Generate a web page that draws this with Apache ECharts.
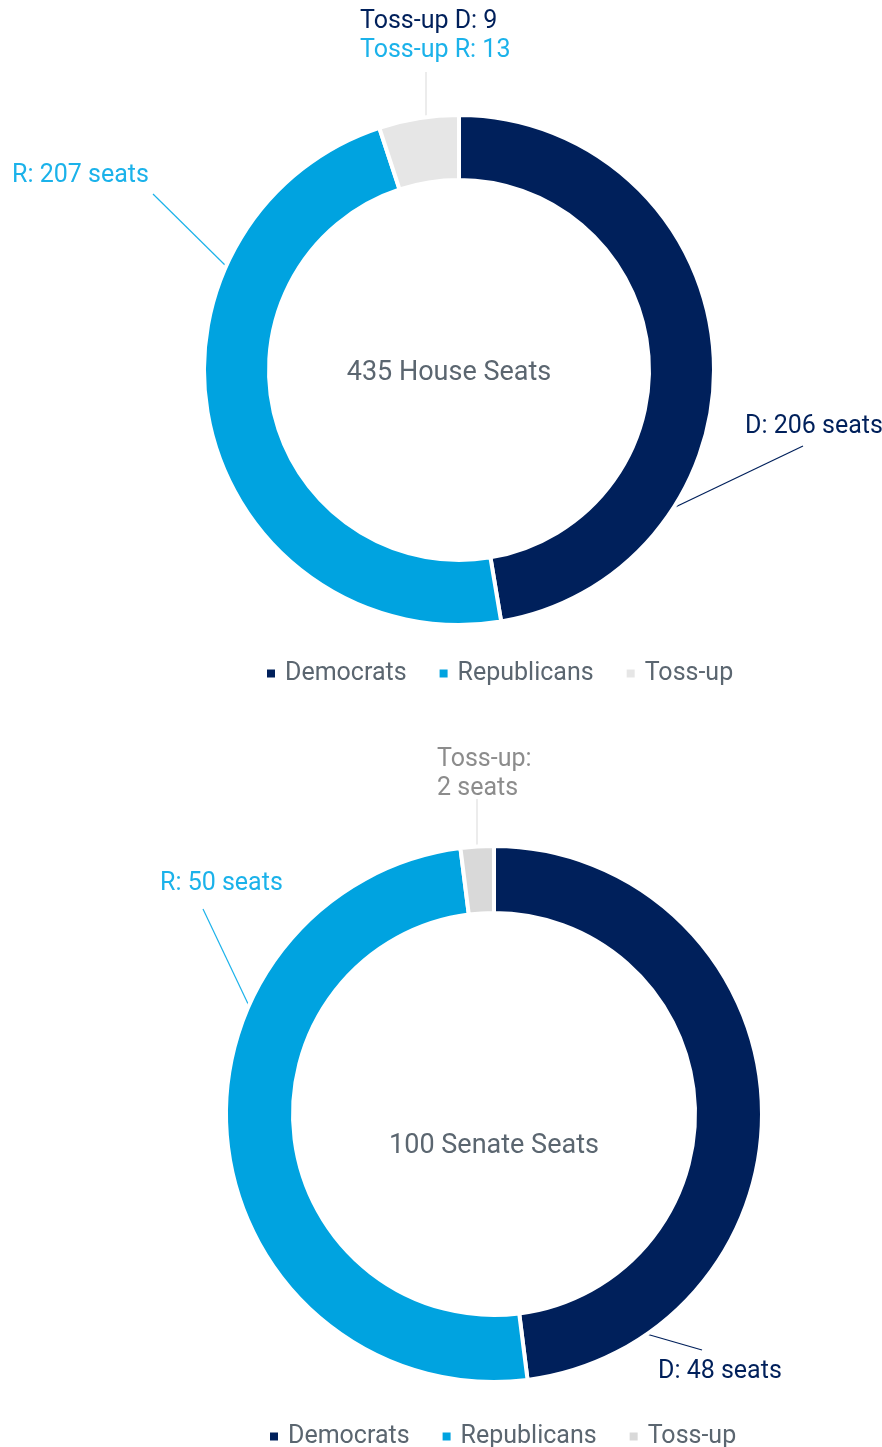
<!DOCTYPE html>
<html>
<head>
<meta charset="utf-8">
<script src="https://cdn.jsdelivr.net/npm/echarts@6/dist/echarts.min.js"></script>
<style>
html,body{margin:0;padding:0;background:#fff;}
#chart{width:882px;height:1447px;}
</style>
</head>
<body>
<div id="chart"></div>
<script>
// ---- data ----
const categories = ['Democrats', 'Republicans', 'Toss-up'];
const houseSeats = [206, 207, 22];
const houseTossUpSplit = [9, 13];   // Toss-up D, Toss-up R
const senateSeats = [48, 50, 2];

// ---- style ----
const FONT = 'Roboto';
const NAVY = '#00205B';
const CYAN = '#00A3E0';
const CYAN_TEXT = '#1BB2EA';
const GREY_TEXT = '#5B6670';
const TOSS_TOP = '#E6E6E6';
const TOSS_BOT = '#D9D9D9';
const LABEL_SIZE = 25;

const houseTotal = houseSeats.reduce((a, b) => a + b, 0);
const senateTotal = senateSeats.reduce((a, b) => a + b, 0);

// label layout (annotation positions)
const houseLabelLayout = [
  {x: 745, y: 427, line: [[667, 511], [803, 446]]},
  {x: 12, y: 176, line: [[228, 268], [153, 194]]},
  {x: 360, y: 36, line: [[426, 118], [426, 72]]}
];
const senateLabelLayout = [
  {x: 658, y: 1372, line: [[643, 1333], [702, 1350]]},
  {x: 160, y: 884, line: [[250, 1008], [203, 909]]},
  {x: 437, y: 774, line: [[477, 847], [477, 799]]}
];

function makeLayout(arr) {
  return function (p) {
    const l = arr[p.dataIndex];
    return {x: l.x, y: l.y, align: 'left', verticalAlign: 'middle', labelLinePoints: l.line};
  };
}

const houseColors = [NAVY, CYAN, TOSS_TOP];
const senateColors = [NAVY, CYAN, TOSS_BOT];

const houseData = categories.map((c, i) => {
  let label;
  if (i === 0) label = {formatter: 'D: ' + houseSeats[0] + ' seats', color: NAVY};
  else if (i === 1) label = {formatter: 'R: ' + houseSeats[1] + ' seats', color: CYAN_TEXT};
  else label = {
    formatter: '{d|Toss-up D: ' + houseTossUpSplit[0] + '}\n{r|Toss-up R: ' + houseTossUpSplit[1] + '}',
    rich: {
      d: {color: NAVY, fontSize: LABEL_SIZE, fontFamily: FONT, lineHeight: 29},
      r: {color: CYAN_TEXT, fontSize: LABEL_SIZE, fontFamily: FONT, lineHeight: 29}
    }
  };
  return {
    name: c, value: houseSeats[i],
    itemStyle: {color: houseColors[i]},
    label: label,
    labelLine: {lineStyle: {color: i === 0 ? NAVY : (i === 1 ? CYAN_TEXT : '#E0E0E0')}}
  };
});

const senateData = categories.map((c, i) => {
  let label;
  if (i === 0) label = {formatter: 'D: ' + senateSeats[0] + ' seats', color: NAVY};
  else if (i === 1) label = {formatter: 'R: ' + senateSeats[1] + ' seats', color: CYAN_TEXT};
  else label = {formatter: 'Toss-up:\n' + senateSeats[2] + ' seats', color: '#8C8C8C', lineHeight: 29};
  return {
    name: c, value: senateSeats[i],
    itemStyle: {color: senateColors[i]},
    label: label,
    labelLine: {lineStyle: {color: i === 0 ? NAVY : (i === 1 ? CYAN_TEXT : '#E0E0E0')}}
  };
});

const pieBase = {
  type: 'pie',
  startAngle: 90,
  clockwise: true,
  avoidLabelOverlap: false,
  silent: true,
  itemStyle: {borderColor: '#ffffff', borderWidth: 4},
  label: {show: true, position: 'outside', fontSize: LABEL_SIZE, fontFamily: FONT},
  labelLine: {show: true, length: 20, length2: 20, lineStyle: {width: 1.2}},
  emphasis: {disabled: true}
};

const legendBase = {
  icon: 'rect',
  itemWidth: 10,
  itemHeight: 10,
  itemGap: 31,
  padding: 0,
  selectedMode: false,
  textStyle: {fontSize: LABEL_SIZE, fontFamily: FONT, color: GREY_TEXT, padding: [0, 0, 0, 4]}
};

const option = {
  backgroundColor: '#ffffff',
  animation: false,
  legend: [
    Object.assign({}, legendBase, {
      left: 265, top: 661,
      data: categories.map((c, i) => {
        const d = {name: c, itemStyle: {color: houseColors[i]}};
        if (i === 1) d.textStyle = {width: 141};
        return d;
      })
    }),
    Object.assign({}, legendBase, {
      left: 268, top: 1424,
      data: categories.map((c, i) => ({name: c, itemStyle: {color: senateColors[i]}}))
    })
  ],
  graphic: [
    {type: 'text', x: 449, y: 373, style: {text: houseTotal + ' House Seats', fontSize: 27, fontFamily: FONT, fill: GREY_TEXT, align: 'center', verticalAlign: 'middle'}},
    {type: 'text', x: 494, y: 1146, style: {text: senateTotal + ' Senate Seats', fontSize: 27, fontFamily: FONT, fill: GREY_TEXT, align: 'center', verticalAlign: 'middle'}}
  ],
  series: [
    Object.assign({}, pieBase, {
      name: 'House',
      center: [459, 370],
      radius: [190, 255],
      data: houseData,
      labelLayout: makeLayout(houseLabelLayout)
    }),
    Object.assign({}, pieBase, {
      name: 'Senate',
      center: [494, 1114],
      radius: [201, 268],
      data: senateData,
      labelLayout: makeLayout(senateLabelLayout)
    })
  ]
};

const chart = echarts.init(document.getElementById('chart'), null, {renderer: 'canvas', width: 882, height: 1447});
chart.setOption(option);
</script>
</body>
</html>
